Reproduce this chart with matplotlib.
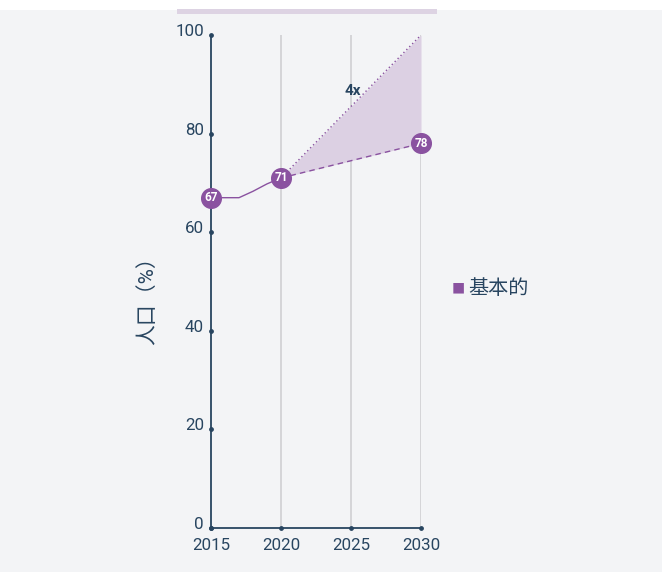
import matplotlib.pyplot as plt
from matplotlib.patches import Rectangle
from matplotlib.transforms import ScaledTranslation

plt.rcParams['font.family'] = ['Roboto', 'Noto Sans CJK SC', 'DejaVu Sans']

# historical series and the two 2030 scenarios
hist_years = [2015, 2017, 2018, 2019, 2020]
hist_values = [67, 67, 68.3, 69.8, 71]
proj_years = [2020, 2030]
proj_high = [71, 100]
proj_base = [71, 78]
point_years = [2015, 2020, 2030]
point_values = [67, 71, 78]
x_ticks = [2015, 2020, 2025, 2030]
y_ticks = [0, 20, 40, 60, 80, 100]
legend_label = '基本的'
y_label = '人口（%）'

navy = '#284560'
purple = '#8a52a0'
fill_col = '#dcd0e3'
bg = '#f3f4f6'

fig = plt.figure(figsize=(6.62, 5.72), dpi=100, facecolor='white')
fig.patches.append(Rectangle((0, 0), 1, 1 - 10 / 572, transform=fig.transFigure,
                             facecolor=bg, edgecolor='none', zorder=-2))
fig.patches.append(Rectangle((177 / 662, 1 - 14 / 572), 260 / 662, 5 / 572,
                             transform=fig.transFigure, facecolor='#ddd3e3',
                             edgecolor='none', zorder=-1))

ax = fig.add_axes([211 / 662, 44 / 572, 210 / 662, 493 / 572])
ax.set_facecolor(bg)
ax.set_xlim(2015, 2030)
ax.set_ylim(0, 100)

for x in x_ticks[1:]:
    ax.axvline(x, color='#cfcfd2', lw=1.2, zorder=0)

ax.fill_between(proj_years, proj_base, proj_high, color=fill_col, lw=0, zorder=1)
ax.plot(proj_years, proj_high, color=purple, lw=1, ls=(0, (1, 2)), zorder=2)
ax.plot(proj_years, proj_base, color=purple, lw=1, ls=(0, (4, 3)), zorder=2)
ax.plot(hist_years, hist_values, color=purple, lw=1, zorder=2)

for x, v in zip(point_years, point_values):
    ax.scatter([x], [v], s=200, color=purple, zorder=4, clip_on=False)
    ax.text(x, v, str(v), color='white', fontsize=8.5, fontweight='bold',
            ha='center', va='center', zorder=5)

ax.text(2025.1, 88.7, '4x', color=navy, fontsize=11, fontweight='bold',
        ha='center', va='center', zorder=5)

for s in ['top', 'right']:
    ax.spines[s].set_visible(False)
for s in ['left', 'bottom']:
    ax.spines[s].set_color(navy)
    ax.spines[s].set_linewidth(1.3)

ax.set_xticks(x_ticks)
ax.set_yticks(y_ticks)
ax.tick_params(length=0, colors=navy, labelsize=12.2)
ax.tick_params(axis='x', pad=7)
ax.tick_params(axis='y', pad=5)
lift = ScaledTranslation(0, 3.5 / 100, fig.dpi_scale_trans)
for lbl in ax.get_yticklabels():
    lbl.set_verticalalignment('center')
    lbl.set_transform(lbl.get_transform() + lift)

# small dots marking each tick on the spines
ax.scatter([2015] * len(y_ticks), y_ticks, s=6, color=navy, zorder=6, clip_on=False)
ax.scatter(x_ticks, [0] * len(x_ticks), s=6, color=navy, zorder=6, clip_on=False)

ax.set_ylabel(y_label, color=navy, fontsize=15)
ax.yaxis.set_label_coords(-0.255, 0.472)

fig.text(452 / 662, 1 - 290 / 572, '■', color=purple, fontsize=9.5, va='center', ha='left')
fig.text(468 / 662, 1 - 289 / 572, legend_label, color=navy, fontsize=14.5, va='center', ha='left')

fig.savefig('out.png', dpi=100, facecolor=fig.get_facecolor())
